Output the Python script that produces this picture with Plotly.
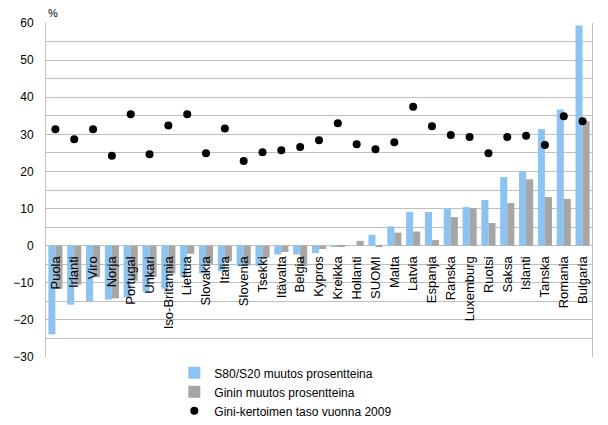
import plotly.graph_objects as go

countries = ["Puola", "Irlanti", "Viro", "Norja", "Portugal", "Unkari", "Iso-Britannia",
             "Liettua", "Slovakia", "Italia", "Slovenia", "Tsekki", "Itävalta", "Belgia",
             "Kypros", "Kreikka", "Hollanti", "SUOMI", "Malta", "Latvia", "Espanja",
             "Ranska", "Luxemburg", "Ruotsi", "Saksa", "Islanti", "Tanska", "Romania", "Bulgaria"]

s80s20_change = [-23.9, -15.9, -15.0, -14.5, -14.0, -12.4, -11.6,
                 -8.5, -7.5, -6.9, -5.5, -5.4, -2.4, -2.4,
                 -2.0, -0.1, 0.0, 2.9, 5.2, 9.1, 9.1,
                 10.0, 10.4, 12.3, 18.5, 20.0, 31.4, 36.7, 59.3]

gini_change = [-11.6, -10.5, -8.5, -14.2, -9.5, -8.5, -7.5,
               -2.2, -4.9, -4.2, -5.3, -3.2, -1.7, -5.5,
               -0.9, -0.3, 1.3, -0.4, 3.5, 3.8, 1.5,
               7.7, 10.1, 6.1, 11.5, 17.9, 13.1, 12.6, 33.5]

gini_2009 = [31.4, 28.7, 31.4, 24.2, 35.4, 24.6, 32.4,
             35.4, 24.9, 31.6, 22.8, 25.2, 25.7, 26.6,
             28.4, 33.0, 27.3, 26.0, 27.9, 37.4, 32.2,
             29.8, 29.3, 24.9, 29.3, 29.6, 27.1, 34.9, 33.5]

y_ticks = [-30, -20, -10, 0, 10, 20, 30, 40, 50, 60]

FONT = "Liberation Sans, Arial, sans-serif"

fig = go.Figure()
fig.add_trace(go.Bar(x=countries, y=s80s20_change, name="S80/S20 muutos prosentteina",
                     marker=dict(color="#8DC3F0", line=dict(width=0))))
fig.add_trace(go.Bar(x=countries, y=gini_change, name="Ginin muutos prosentteina",
                     marker=dict(color="#A6A6A6", line=dict(width=0))))
fig.add_trace(go.Scatter(x=countries, y=gini_2009, mode="markers",
                         name="Gini-kertoimen taso vuonna 2009",
                         marker=dict(color="black", size=8, symbol="circle")))

fig.update_layout(
    width=608, height=425,
    margin=dict(l=46, r=16, t=23, b=68, autoexpand=False),
    paper_bgcolor="white", plot_bgcolor="white",
    barmode="group", bargap=0.25, bargroupgap=0,
    font=dict(family=FONT, size=12, color="black"),
    showlegend=True,
    legend=dict(x=0.235, y=-0.004, xanchor="left", yanchor="top",
                font=dict(family=FONT, size=12, color="black"),
                tracegroupgap=0, itemwidth=30, bgcolor="rgba(0,0,0,0)"),
    xaxis=dict(anchor="free", position=1/3, tickangle=-90, showgrid=False,
               showline=False, ticks="", ticklabelstandoff=7,
               tickfont=dict(family=FONT, size=13, color="black"),
               range=[-0.5, len(countries) - 0.5]),
    yaxis=dict(range=[-30, 60], tickvals=y_ticks, showgrid=True, gridcolor="#BFBFBF",
               gridwidth=1, zeroline=False, showline=True, mirror=True,
               linecolor="#BFBFBF", linewidth=1, ticks="", ticklabelstandoff=9,
               minor=dict(dtick=5, showgrid=True, gridcolor="#BFBFBF", gridwidth=1),
               tickfont=dict(family=FONT, size=12, color="black")),
    annotations=[dict(text="%", xref="paper", yref="paper", x=0, y=1, xanchor="left",
                      yanchor="bottom", yshift=2, showarrow=False,
                      font=dict(family=FONT, size=11, color="black"))],
)

fig.write_html("out.html", config={"displayModeBar": False},
               post_script="document.body.style.margin='0';")
